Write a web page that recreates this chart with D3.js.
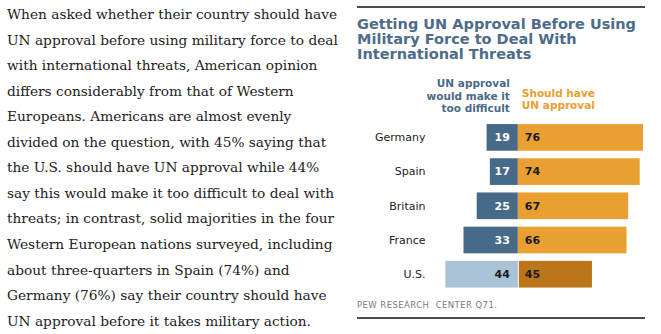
<!DOCTYPE html>
<html>
<head>
<meta charset="utf-8">
<script src="https://cdn.jsdelivr.net/npm/d3@7"></script>
<style>
  body { margin: 0; background: #fff; }
  svg { display: block; }
</style>
</head>
<body>
<svg id="chart" width="661" height="334"></svg>
<script>
// paragraph that sits left of the chart, one entry per line
var storyLines = [
  "When asked whether their country should have",
  "UN approval before using military force to deal",
  "with international threats, American opinion",
  "differs considerably from that of Western",
  "Europeans. Americans are almost evenly",
  "divided on the question, with 45% saying that",
  "the U.S. should have UN approval while 44%",
  "say this would make it too difficult to deal with",
  "threats; in contrast, solid majorities in the four",
  "Western European nations surveyed, including",
  "about three-quarters in Spain (74%) and",
  "Germany (76%) say their country should have",
  "UN approval before it takes military action."
];

var titleLines = ["Getting UN Approval Before Using", "Military Force to Deal With", "International Threats"];
var tooDifficultLabel = ["UN approval", "would make it", "too difficult"];
var shouldHaveLabel = ["Should have", "UN approval"];
var sourceNote = "PEW RESEARCH  CENTER Q71.";

var countries = ["Germany", "Spain", "Britain", "France", "U.S."];
var tooDifficult = [19, 17, 25, 33, 44];
var shouldHave = [76, 74, 67, 66, 45];

var svg = d3.select("#chart");

// --- left paragraph (fit the serif font so the widest line spans the column)
var story = svg.append("g").attr("font-family", "Georgia, 'DejaVu Serif', serif").attr("fill", "#222");
var storyText = story.selectAll("text").data(storyLines).join("text")
  .attr("x", 7)
  .attr("y", function(d, i) { return 19 + i * 25.55; })
  .attr("font-size", 15)
  .text(function(d) { return d; });
var widest = d3.max(storyText.nodes(), function(n) { return n.getComputedTextLength(); });
storyText.attr("font-size", 15 * 331 / widest);

// --- chart panel
var left = 357, right = 645;
svg.append("line").attr("x1", left).attr("x2", right).attr("y1", 7).attr("y2", 7)
  .attr("stroke", "#111").attr("stroke-width", 1.5);
svg.append("line").attr("x1", left).attr("x2", right).attr("y1", 318).attr("y2", 318)
  .attr("stroke", "#111").attr("stroke-width", 1.5);

var title = svg.selectAll("text.title").data(titleLines).join("text")
  .attr("class", "title")
  .attr("x", left)
  .attr("y", function(d, i) { return 29 + i * 15; })
  .attr("font-family", "'DejaVu Sans', Verdana, sans-serif")
  .attr("font-weight", "bold")
  .attr("font-size", 14.5)
  .attr("fill", "#4d6c89")
  .text(function(d) { return d; });
// squeeze the first line to the panel width, others follow the same ratio
var t0 = title.node().getComputedTextLength();
title.attr("textLength", function() { return this.getComputedTextLength() * 279 / t0; })
  .attr("lengthAdjust", "spacingAndGlyphs");

var x = d3.scaleLinear().domain([-44, 76]).range([445.4, 643]);
var y = d3.scaleBand().domain(countries).range([120.3, 291.3]).paddingInner(0.22).paddingOuter(0.11);

var sans = "'DejaVu Sans', Verdana, sans-serif";

svg.selectAll("text.leg1").data(tooDifficultLabel).join("text")
  .attr("class", "leg1")
  .attr("x", x(0) - 8)
  .attr("y", function(d, i) { return 87.3 + i * 12.5; })
  .attr("text-anchor", "end")
  .attr("font-family", sans).attr("font-weight", "bold").attr("font-size", 10.5)
  .attr("fill", "#4a6a88")
  .text(function(d) { return d; });

svg.selectAll("text.leg2").data(shouldHaveLabel).join("text")
  .attr("class", "leg2")
  .attr("x", x(0) + 4)
  .attr("y", function(d, i) { return 96.7 + i * 12.5; })
  .attr("font-family", sans).attr("font-weight", "bold").attr("font-size", 10.5)
  .attr("fill", "#e8a030")
  .text(function(d) { return d; });

var rows = countries.map(function(c, i) {
  return { country: c, neg: tooDifficult[i], pos: shouldHave[i], us: c === "U.S." };
});

var row = svg.selectAll("g.row").data(rows).join("g")
  .attr("class", "row")
  .attr("transform", function(d) { return "translate(0," + y(d.country) + ")"; });

row.append("rect")
  .attr("x", function(d) { return x(-d.neg); })
  .attr("width", function(d) { return x(0) - x(-d.neg); })
  .attr("height", y.bandwidth())
  .attr("fill", function(d) { return d.us ? "#a9c2d6" : "#466a88"; });

row.append("rect")
  .attr("x", function(d) { return x(0) + (d.us ? 1 : 0); })
  .attr("width", function(d) { return x(d.pos) - x(0) - (d.us ? 1 : 0); })
  .attr("height", y.bandwidth())
  .attr("fill", function(d) { return d.us ? "#ba7619" : "#e9a030"; });

var mid = y.bandwidth() / 2 + 3.8;

row.append("text")
  .attr("x", 425.5)
  .attr("y", mid)
  .attr("text-anchor", "end")
  .attr("font-family", sans).attr("font-size", 11).attr("fill", "#222")
  .text(function(d) { return d.country; });

row.append("text")
  .attr("x", x(0) - 8)
  .attr("y", mid)
  .attr("text-anchor", "end")
  .attr("font-family", sans).attr("font-weight", "bold").attr("font-size", 11)
  .attr("fill", function(d) { return d.us ? "#1a1a1a" : "#fff"; })
  .text(function(d) { return d.neg; });

row.append("text")
  .attr("x", x(0) + 7)
  .attr("y", mid)
  .attr("font-family", sans).attr("font-weight", "bold").attr("font-size", 11)
  .attr("fill", "#1a1a1a")
  .text(function(d) { return d.pos; });

svg.append("text")
  .attr("x", left)
  .attr("y", 308.3)
  .attr("font-family", sans).attr("font-size", 8.5)
  .attr("fill", "#7a7a7a")
  .attr("textLength", 140).attr("lengthAdjust", "spacing")
  .style("white-space", "pre")
  .text(sourceNote);
</script>
</body>
</html>
